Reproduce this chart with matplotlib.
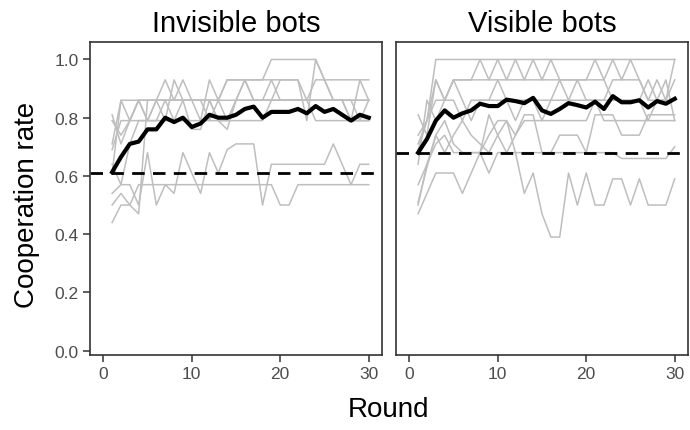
import numpy as np
import matplotlib.pyplot as plt

plt.rcParams['font.family'] = ['Liberation Sans', 'DejaVu Sans']

rounds = np.arange(1, 31)

# Invisible bots: one grey line per group
inv_groups = [
    [0.79, 0.74, 0.79, 0.86, 0.86, 0.86, 0.86, 0.86, 0.86, 0.86, 0.86, 0.86, 0.86, 0.93, 0.93,
     0.93, 0.93, 0.93, 1.00, 1.00, 1.00, 1.00, 1.00, 1.00, 0.93, 0.93, 0.93, 0.93, 0.93, 0.93],
    [0.81, 0.71, 0.79, 0.86, 0.79, 0.86, 0.93, 0.86, 0.93, 0.86, 0.79, 0.93, 0.86, 0.86, 0.86,
     0.93, 0.86, 0.86, 0.86, 0.86, 0.86, 0.86, 0.86, 0.93, 0.93, 0.86, 0.86, 0.79, 0.93, 0.86],
    [0.71, 0.86, 0.86, 0.86, 0.86, 0.86, 0.86, 0.86, 0.86, 0.86, 0.86, 0.86, 0.86, 0.93, 0.93,
     0.93, 0.93, 0.93, 0.93, 0.93, 0.93, 0.93, 0.79, 1.00, 0.93, 0.86, 0.86, 0.86, 0.86, 0.86],
    [0.69, 0.79, 0.79, 0.79, 0.79, 0.86, 0.79, 0.93, 0.86, 0.76, 0.76, 0.86, 0.79, 0.76, 0.86,
     0.93, 0.86, 0.86, 0.86, 0.86, 0.86, 0.86, 0.86, 0.86, 0.86, 0.86, 0.86, 0.79, 0.79, 0.79],
    [0.61, 0.86, 0.79, 0.86, 0.79, 0.79, 0.86, 0.79, 0.86, 0.86, 0.86, 0.79, 0.86, 0.79, 0.86,
     0.86, 0.86, 0.86, 0.93, 0.86, 0.86, 0.86, 0.86, 0.86, 0.86, 0.86, 0.86, 0.86, 0.79, 0.86],
    [0.50, 0.54, 0.50, 0.47, 0.86, 0.86, 0.86, 0.86, 0.86, 0.86, 0.86, 0.86, 0.79, 0.79, 0.86,
     0.86, 0.86, 0.86, 0.86, 0.93, 0.93, 0.93, 0.86, 0.86, 0.86, 0.86, 0.86, 0.86, 0.86, 0.86],
    [0.64, 0.57, 0.71, 0.79, 0.79, 0.79, 0.79, 0.79, 0.79, 0.79, 0.79, 0.79, 0.79, 0.79, 0.79,
     0.79, 0.79, 0.79, 0.86, 0.86, 0.86, 0.86, 0.86, 0.79, 0.79, 0.79, 0.79, 0.79, 0.79, 0.79],
    [0.44, 0.50, 0.50, 0.57, 0.57, 0.57, 0.57, 0.57, 0.57, 0.57, 0.57, 0.57, 0.57, 0.57, 0.57,
     0.57, 0.57, 0.57, 0.57, 0.50, 0.50, 0.57, 0.57, 0.57, 0.57, 0.57, 0.57, 0.57, 0.57, 0.57],
    [0.54, 0.57, 0.57, 0.50, 0.68, 0.50, 0.57, 0.54, 0.68, 0.61, 0.54, 0.68, 0.61, 0.69, 0.71,
     0.71, 0.71, 0.50, 0.64, 0.64, 0.64, 0.64, 0.64, 0.64, 0.64, 0.71, 0.64, 0.57, 0.64, 0.64],
]
inv_mean = [0.613, 0.665, 0.71, 0.718, 0.76, 0.76, 0.80, 0.785, 0.80, 0.768, 0.78, 0.81, 0.80, 0.80, 0.81,
            0.83, 0.838, 0.80, 0.82, 0.82, 0.82, 0.83, 0.815, 0.84, 0.82, 0.83, 0.81, 0.79, 0.81, 0.80]
inv_base = 0.61

# Visible bots
vis_groups = [
    [0.71, 0.79, 1.00, 1.00, 1.00, 1.00, 1.00, 1.00, 1.00, 1.00, 1.00, 1.00, 1.00, 1.00, 1.00,
     1.00, 1.00, 1.00, 1.00, 1.00, 1.00, 1.00, 1.00, 1.00, 1.00, 1.00, 1.00, 1.00, 1.00, 1.00],
    [0.74, 0.79, 0.86, 0.86, 0.93, 0.93, 0.93, 1.00, 0.93, 1.00, 0.93, 1.00, 0.93, 1.00, 0.93,
     1.00, 0.93, 0.93, 0.93, 0.93, 1.00, 0.93, 1.00, 0.93, 1.00, 0.93, 0.86, 0.93, 0.86, 1.00],
    [0.64, 0.86, 0.79, 0.86, 0.93, 0.93, 0.93, 0.93, 0.93, 0.93, 0.93, 0.93, 0.93, 0.93, 0.93,
     0.93, 0.93, 0.93, 0.93, 0.93, 0.93, 0.93, 0.86, 0.86, 0.86, 0.86, 0.93, 0.86, 0.93, 0.79],
    [0.69, 0.79, 0.93, 0.86, 0.86, 0.79, 0.86, 0.86, 0.86, 0.93, 0.86, 0.86, 0.86, 0.86, 0.86,
     0.86, 0.93, 0.86, 0.93, 0.86, 0.86, 0.86, 0.86, 0.86, 0.86, 0.86, 0.79, 0.86, 0.86, 0.86],
    [0.81, 0.74, 0.93, 0.86, 0.93, 0.86, 0.79, 0.86, 0.86, 0.86, 0.86, 0.79, 0.86, 0.86, 0.79,
     0.86, 0.86, 0.86, 0.86, 0.86, 0.86, 0.86, 0.93, 0.93, 0.93, 0.93, 0.86, 0.86, 0.86, 0.93],
    [0.57, 0.64, 0.74, 0.79, 0.71, 0.68, 0.68, 0.68, 0.81, 0.74, 0.68, 0.74, 0.81, 0.81, 0.68,
     0.68, 0.74, 0.74, 0.74, 0.68, 0.81, 0.81, 0.81, 0.74, 0.74, 0.74, 0.81, 0.81, 0.81, 0.81],
    [0.50, 0.64, 0.71, 0.74, 0.68, 0.68, 0.68, 0.68, 0.61, 0.68, 0.68, 0.68, 0.68, 0.68, 0.68,
     0.68, 0.68, 0.68, 0.68, 0.68, 0.68, 0.68, 0.68, 0.66, 0.66, 0.66, 0.66, 0.66, 0.66, 0.70],
    [0.47, 0.54, 0.61, 0.61, 0.61, 0.54, 0.61, 0.68, 0.74, 0.79, 0.79, 0.74, 0.79, 0.79, 0.79,
     0.79, 0.79, 0.79, 0.79, 0.79, 0.86, 0.79, 0.79, 0.79, 0.79, 0.79, 0.79, 0.79, 0.79, 0.79],
    [0.51, 0.63, 0.74, 0.68, 0.74, 0.79, 0.74, 0.71, 0.68, 0.74, 0.79, 0.68, 0.54, 0.61, 0.47,
     0.39, 0.39, 0.61, 0.50, 0.61, 0.50, 0.50, 0.59, 0.59, 0.50, 0.59, 0.50, 0.50, 0.50, 0.59],
]
vis_mean = [0.68, 0.727, 0.79, 0.825, 0.80, 0.815, 0.825, 0.848, 0.84, 0.84, 0.862, 0.857, 0.85, 0.868, 0.825,
            0.813, 0.83, 0.85, 0.843, 0.835, 0.855, 0.83, 0.874, 0.853, 0.853, 0.86, 0.835, 0.857, 0.848, 0.865]
vis_base = 0.68

panel_titles = ["Invisible bots", "Visible bots"]
y_ticks = [0.0, 0.2, 0.4, 0.6, 0.8, 1.0]
x_ticks = [0, 10, 20, 30]

W, H = 690, 431
fig = plt.figure(figsize=(W / 100, H / 100), dpi=100)
ax1 = fig.add_axes([90 / W, 1 - 356 / H, 292 / W, 313 / H])
ax2 = fig.add_axes([396 / W, 1 - 356 / H, 292 / W, 313 / H])


def draw_panel(ax, groups, mean, base, title):
    for g in groups:
        ax.plot(rounds, g, color='#BEBEBE', lw=1.1, zorder=1)
    ax.axhline(base, color='black', lw=2.0, dashes=(4.5, 3), zorder=2)
    ax.plot(rounds, mean, color='black', lw=3.0, zorder=3, solid_joinstyle='round')
    ax.set_xlim(-1.5, 31.5)
    ax.set_ylim(-0.015, 1.06)
    ax.set_xticks(x_ticks)
    ax.set_yticks(y_ticks)
    ax.set_yticklabels([f"{v:.1f}" for v in y_ticks])
    for s in ax.spines.values():
        s.set_color('#333333')
        s.set_linewidth(1.2)
    ax.tick_params(length=5, width=1.1, color='#333333', labelcolor='#4D4D4D',
                   labelsize=12.5, pad=3)
    ax.set_title(title, fontsize=21, pad=8)


draw_panel(ax1, inv_groups, inv_mean, inv_base, panel_titles[0])
draw_panel(ax2, vis_groups, vis_mean, vis_base, panel_titles[1])
ax2.tick_params(axis='y', left=False, labelleft=False)

fig.text(27 / W, 1 - 205 / H, "Cooperation rate", rotation=90, fontsize=20,
         ha='center', va='center')
fig.text(389 / W, 1 - 410 / H, "Round", fontsize=20, ha='center', va='center')

fig.savefig('out.png', dpi=100)
